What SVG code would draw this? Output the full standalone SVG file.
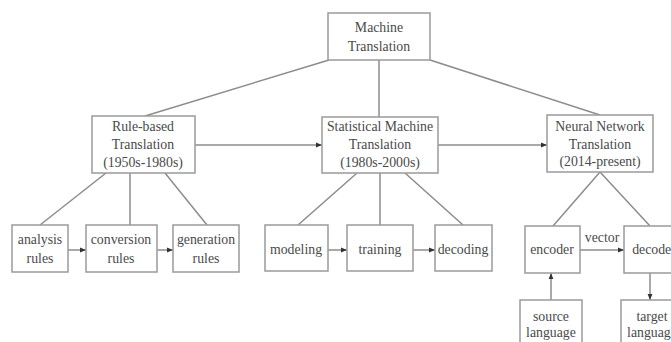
<svg xmlns="http://www.w3.org/2000/svg" width="671" height="342" viewBox="0 0 671 342">
<style>
.box{fill:#fff;stroke:#9a9a9a;stroke-width:1.5}
.ln{stroke:#8c8c8c;stroke-width:1.5;fill:none}
text{font-family:"Liberation Serif","Times New Roman",serif;font-size:13.8px;fill:#4a4a4a;text-anchor:middle}
</style>
<defs>
<marker id="ah" viewBox="0 0 10 10" refX="10" refY="5" markerWidth="6" markerHeight="6" orient="auto" markerUnits="userSpaceOnUse">
<path d="M0,1 L10,5 L0,9 z" fill="#333"/>
</marker>
</defs>
<rect width="671" height="342" fill="#fff"/>
<g id="connectors">
<line class="ln" x1="329" y1="60" x2="145" y2="116"/>
<line class="ln" x1="379" y1="60" x2="379" y2="117"/>
<line class="ln" x1="430" y1="60" x2="600" y2="115"/>
<line class="ln" x1="195" y1="145" x2="322" y2="145" marker-end="url(#ah)"/>
<line class="ln" x1="438" y1="145" x2="547" y2="145" marker-end="url(#ah)"/>
<line class="ln" x1="106" y1="173" x2="40" y2="225"/>
<line class="ln" x1="130" y1="173" x2="130" y2="225"/>
<line class="ln" x1="165" y1="173" x2="207" y2="225"/>
<line class="ln" x1="68" y1="250" x2="86" y2="250" marker-end="url(#ah)"/>
<line class="ln" x1="157" y1="250" x2="173" y2="250" marker-end="url(#ah)"/>
<line class="ln" x1="357" y1="173" x2="298" y2="225"/>
<line class="ln" x1="380" y1="173" x2="380" y2="225"/>
<line class="ln" x1="405" y1="173" x2="463" y2="225"/>
<line class="ln" x1="328" y1="250" x2="347" y2="250" marker-end="url(#ah)"/>
<line class="ln" x1="413" y1="250" x2="435" y2="250" marker-end="url(#ah)"/>
<line class="ln" x1="600" y1="172" x2="553" y2="226"/>
<line class="ln" x1="600" y1="172" x2="650" y2="226"/>
<line class="ln" x1="580" y1="250" x2="624" y2="250" marker-end="url(#ah)"/>
<text x="602" y="242">vector</text>
<line class="ln" x1="551" y1="300" x2="551" y2="273" marker-end="url(#ah)"/>
<line class="ln" x1="650" y1="273" x2="650" y2="300" marker-end="url(#ah)"/>
</g>
<g id="machine-translation">
<rect class="box" x="328" y="13" width="102" height="47"/>
<text x="379" y="32">Machine</text>
<text x="379" y="51">Translation</text>
</g>
<g id="rule-based">
<rect class="box" x="92" y="116" width="103" height="57"/>
<text x="143" y="131">Rule-based</text>
<text x="143" y="149">Translation</text>
<text x="143" y="167">(1950s-1980s)</text>
</g>
<g id="statistical">
<rect class="box" x="322" y="117" width="116" height="56"/>
<text x="380" y="131">Statistical Machine</text>
<text x="380" y="149">Translation</text>
<text x="380" y="167">(1980s-2000s)</text>
</g>
<g id="neural">
<rect class="box" x="547" y="115" width="106" height="57"/>
<text x="600" y="131">Neural Network</text>
<text x="600" y="149">Translation</text>
<text x="600" y="166">(2014-present)</text>
</g>
<g id="analysis">
<rect class="box" x="12" y="225" width="56" height="47"/>
<text x="40" y="244">analysis</text>
<text x="40" y="263">rules</text>
</g>
<g id="conversion">
<rect class="box" x="86" y="225" width="71" height="47"/>
<text x="121" y="244">conversion</text>
<text x="121" y="263">rules</text>
</g>
<g id="generation">
<rect class="box" x="173" y="225" width="66" height="47"/>
<text x="206" y="244">generation</text>
<text x="206" y="263">rules</text>
</g>
<g id="modeling">
<rect class="box" x="265" y="225" width="63" height="46"/>
<text x="296" y="254">modeling</text>
</g>
<g id="training">
<rect class="box" x="347" y="225" width="66" height="46"/>
<text x="380" y="254">training</text>
</g>
<g id="decoding">
<rect class="box" x="435" y="225" width="57" height="46"/>
<text x="463" y="254">decoding</text>
</g>
<g id="encoder">
<rect class="box" x="525" y="226" width="55" height="47"/>
<text x="552" y="254">encoder</text>
</g>
<g id="decoder">
<rect class="box" x="624" y="226" width="60" height="47"/>
<text x="654" y="254">decoder</text>
</g>
<g id="source-language">
<rect class="box" x="520" y="300" width="62" height="50"/>
<text x="551" y="321">source</text>
<text x="551" y="337">language</text>
</g>
<g id="target-language">
<rect class="box" x="621" y="300" width="62" height="50"/>
<text x="652" y="321">target</text>
<text x="652" y="337">language</text>
</g>
</svg>
